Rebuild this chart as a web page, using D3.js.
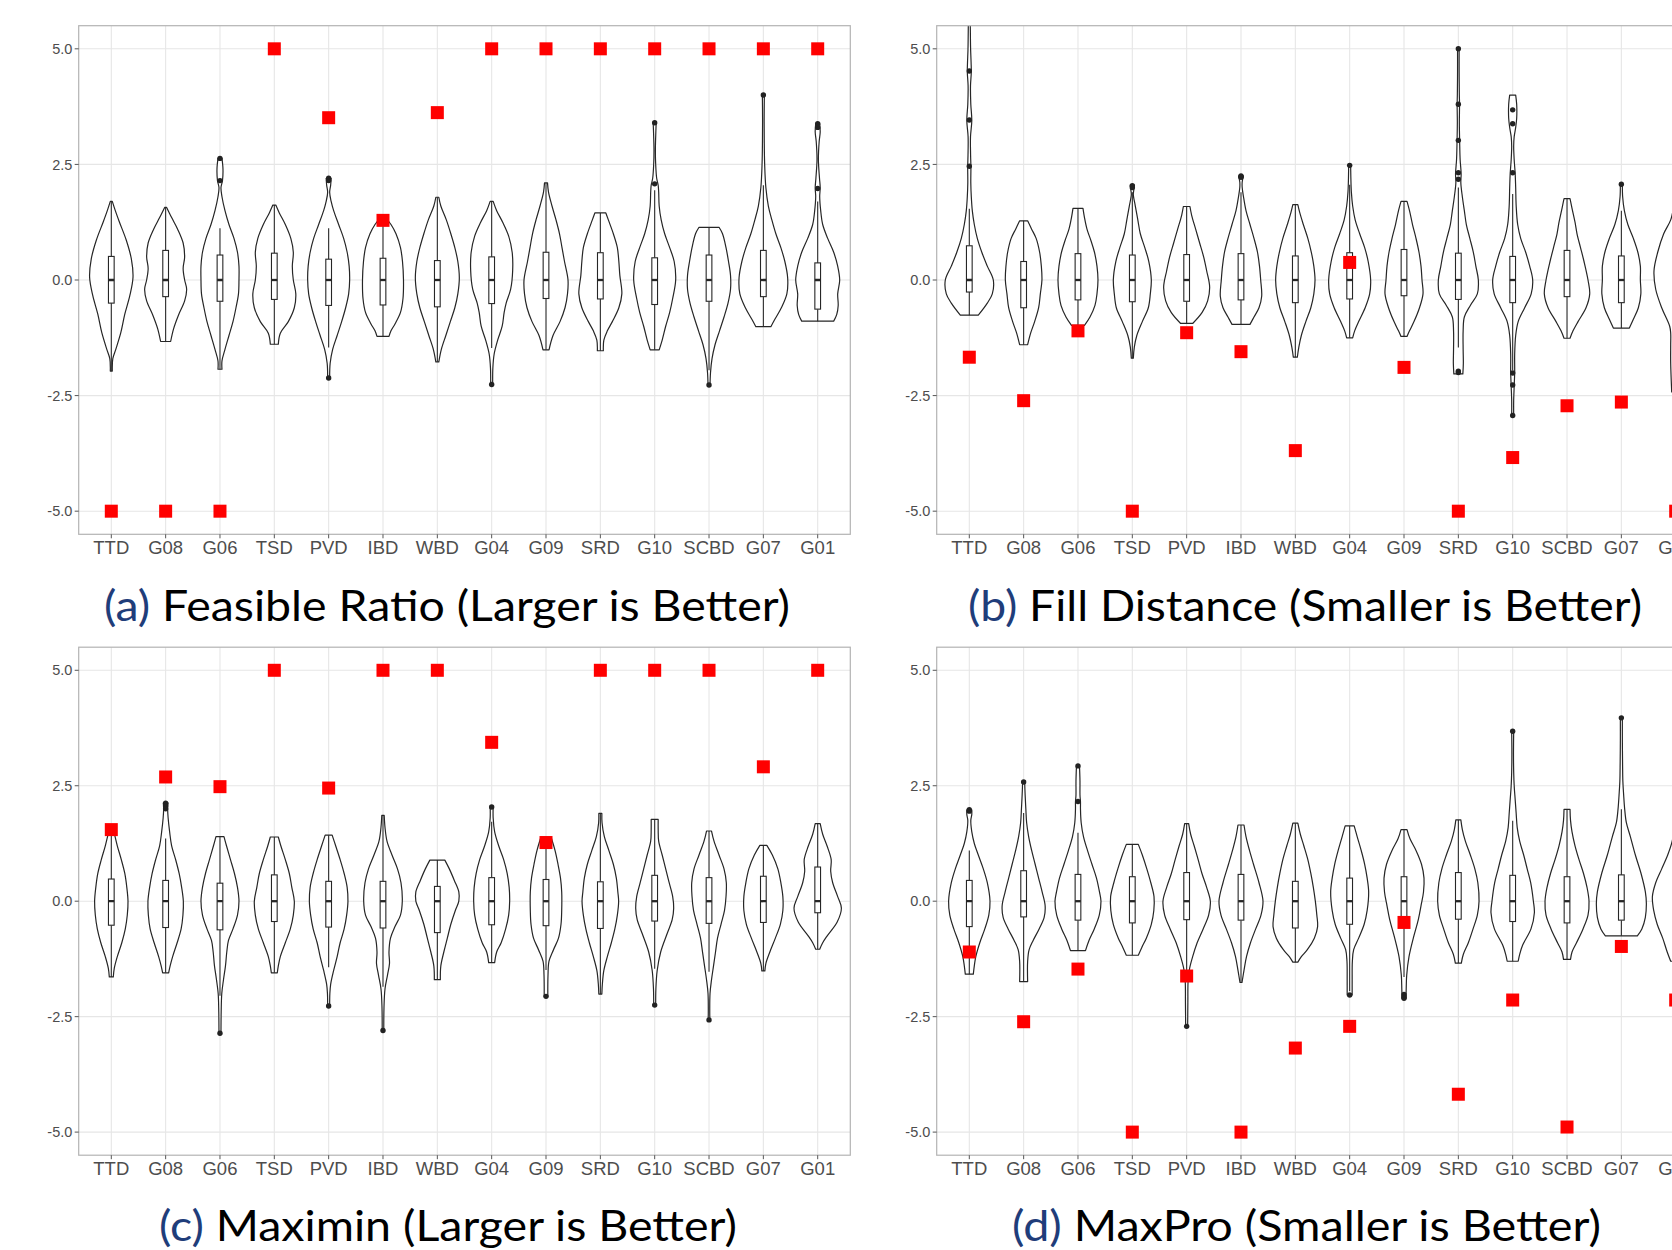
<!DOCTYPE html>
<html>
<head>
<meta charset="utf-8">
<script src="https://cdn.jsdelivr.net/npm/d3@7"></script>
<style>
  html, body { margin: 0; padding: 0; background: #fff; }
  svg { display: block; }
</style>
</head>
<body>
<svg id="fig" width="1672" height="1250"></svg>
<script>
// ---------- shared axis content ----------
const categories = ["TTD", "G08", "G06", "TSD", "PVD", "IBD", "WBD", "G04", "G09", "SRD", "G10", "SCBD", "G07", "G01"];
const yTicks = [-5.0, -2.5, 0.0, 2.5, 5.0];

// ---------- (a) Feasible Ratio ----------
// proposed design value per method (red squares)
const feasibleBest = [-5, -5, -5, 5, 3.51, 1.29, 3.62, 5, 5, 5, 5, 5, 5, 5];
// [lower whisker, q1, median, q3, upper whisker]
const feasibleBoxes = [
  [-1.97, -0.50, 0, 0.51, 1.70], [-1.33, -0.36, 0, 0.64, 1.57], [-1.93, -0.46, 0, 0.54, 1.12],
  [-1.39, -0.42, 0, 0.58, 1.62], [-1.46, -0.55, 0, 0.45, 1.12], [-1.22, -0.54, 0, 0.47, 1.34],
  [-1.77, -0.58, 0, 0.42, 1.79], [-1.47, -0.51, 0, 0.50, 1.70], [-1.51, -0.40, 0, 0.60, 2.10],
  [-1.53, -0.41, 0, 0.59, 1.45], [-1.51, -0.53, 0, 0.48, 1.94], [-1.95, -0.46, 0, 0.54, 1.14],
  [-1.01, -0.36, 0, 0.64, 2.05], [-0.89, -0.63, 0, 0.37, 1.70]
];
const feasibleOutliers = [
  [], [], [2.63, 2.15], [], [2.20, 2.15, -2.12], [], [], [-2.26], [], [], [3.40, 2.08], [-2.27], [4.00], [3.38, 3.30, 1.98]
];
// violin outlines: [value, density]
const feasibleShapes = [
  [[1.70,1],[1.5,4],[1.26,8],[0.86,15],[0.46,20],[0.06,21.7],[-0.34,18.5],[-0.74,13.5],[-1.14,9.5],[-1.5,4.5],[-1.7,1.5],[-1.97,1]],
  [[1.57,1],[1.35,6],[1.1,12],[0.8,17.5],[0.5,19],[0.25,17.5],[0,19],[-0.2,21],[-0.45,19],[-0.75,13],[-1.05,8],[-1.33,5]],
  [[2.63,2],[2.4,3],[2.15,2.5],[2.0,1],[1.8,2],[1.5,5],[1.2,9],[0.9,14],[0.6,17.5],[0.3,19],[0,19],[-0.3,18.5],[-0.6,16],[-0.9,13],[-1.2,9],[-1.5,5],[-1.75,2],[-1.93,2]],
  [[1.62,1.5],[1.45,5],[1.2,11],[0.9,16.5],[0.6,19],[0.3,18],[0,19],[-0.3,21.5],[-0.6,20],[-0.9,14],[-1.15,6],[-1.39,4]],
  [[2.2,2.5],[2.05,2],[1.9,1],[1.7,2.5],[1.5,5],[1.2,10],[0.9,15],[0.6,18.5],[0.3,20.5],[0,21],[-0.3,20],[-0.6,17],[-0.9,13],[-1.2,8.5],[-1.5,4],[-1.8,1.5],[-2.12,1]],
  [[1.34,3],[1.2,8],[1.0,13],[0.7,17.5],[0.4,19.5],[0,20.5],[-0.4,20],[-0.7,17.5],[-0.95,12],[-1.1,8],[-1.22,6]],
  [[1.79,1.5],[1.6,3.5],[1.3,9],[1.0,13.5],[0.7,17.5],[0.4,20.5],[0.05,22],[-0.3,20.5],[-0.6,17.5],[-0.9,13],[-1.2,8.5],[-1.5,4],[-1.77,1.5]],
  [[1.70,1.5],[1.5,5],[1.25,11],[0.95,17],[0.6,20.5],[0.2,21],[-0.2,19],[-0.5,14.5],[-0.7,12.5],[-1.0,10.5],[-1.3,6],[-1.6,2.5],[-1.9,1.2],[-2.26,1]],
  [[2.10,1.5],[1.9,2.5],[1.6,6],[1.3,10],[1.0,13.5],[0.7,16],[0.4,18.5],[0,22],[-0.3,21.5],[-0.6,19],[-0.9,14],[-1.2,7],[-1.51,3]],
  [[1.45,5.5],[1.3,8],[1.0,13],[0.7,17],[0.4,18.5],[0.1,19.5],[-0.3,21.5],[-0.6,18.5],[-0.9,12],[-1.1,7],[-1.3,3.5],[-1.53,3]],
  [[3.40,1.5],[3.1,1],[2.8,0.7],[2.5,1],[2.2,2],[2.05,3.5],[1.9,4],[1.6,4.5],[1.3,6.5],[1.0,10],[0.7,15],[0.4,19.5],[0,21],[-0.4,18],[-0.7,15],[-1.0,11],[-1.3,7.5],[-1.51,4.5]],
  [[1.14,10],[1.0,13.5],[0.7,17],[0.4,19.5],[0.1,21.5],[-0.2,21.5],[-0.5,19],[-0.8,15],[-1.1,10.5],[-1.4,6],[-1.7,3],[-2.0,1.5],[-2.27,1]],
  [[4.0,1],[3.5,0.8],[3.0,0.9],[2.5,1.3],[2.0,2.5],[1.6,5],[1.3,8.5],[1.0,12.5],[0.7,17.5],[0.4,21.5],[0.05,24.3],[-0.3,23.5],[-0.6,18],[-0.85,11.5],[-1.01,7.5]],
  [[3.38,2],[3.2,2.5],[3.0,1.5],[2.6,0.7],[2.2,1.8],[2.0,2.5],[1.8,2],[1.5,3],[1.2,5],[0.9,10],[0.6,16],[0.3,20],[0,22],[-0.3,20],[-0.55,20.5],[-0.75,19],[-0.89,16]]
];

// ---------- (b) Fill Distance ----------
const fillBest = [-1.67, -2.61, -1.10, -5, -1.14, -1.55, -3.69, 0.38, -1.89, -5, -3.84, -2.72, -2.64, -5];
const fillBoxes = [
  [-0.76, -0.26, 0, 0.74, 1.54], [-1.40, -0.60, 0, 0.40, 1.28], [-0.98, -0.43, 0, 0.57, 1.55],
  [-1.69, -0.47, 0, 0.54, 1.90], [-0.94, -0.46, 0, 0.55, 1.59], [-0.96, -0.43, 0, 0.57, 1.90],
  [-1.67, -0.49, 0, 0.52, 1.63], [-1.25, -0.41, 0, 0.59, 2.06], [-1.22, -0.34, 0, 0.66, 1.70],
  [-1.46, -0.42, 0, 0.58, 2.00], [-1.95, -0.49, 0, 0.51, 1.86], [-1.26, -0.36, 0, 0.64, 1.76],
  [-1.04, -0.49, 0, 0.52, 1.50], [-2.42, -0.50, 0, 0.50, 1.60]
];
const fillOutliers = [
  [6.2, 4.52, 3.46, 2.46], [], [], [2.04, 2.00], [], [2.25, 2.22], [], [2.48], [],
  [5.00, 3.80, 3.02, 2.32, 2.18, -1.97, -2.00], [3.68, 3.38, 2.32, -2.01, -2.27, -2.93], [], [2.07], []
];
const fillShapes = [
  [[6.2,0.8],[5.5,1],[5.0,1.3],[4.7,1.8],[4.5,2],[4.2,1.2],[3.8,1.5],[3.45,2.5],[3.1,1.2],[2.7,1.3],[2.45,1.6],[2.1,1.5],[1.8,2],[1.5,3],[1.2,5],[0.9,8],[0.6,12.5],[0.3,18],[0,24],[-0.3,23],[-0.5,18],[-0.76,9]],
  [[1.28,4],[1.1,8],[0.9,12.5],[0.6,16],[0.3,17.7],[0,18.3],[-0.3,16.7],[-0.6,15],[-0.9,11],[-1.15,7],[-1.40,4]],
  [[1.55,5],[1.35,6.5],[1.1,9],[0.85,13],[0.6,16.5],[0.3,19],[0,20],[-0.3,19],[-0.55,17],[-0.8,12],[-0.98,6.5]],
  [[2.05,2],[1.95,1.5],[1.85,1],[1.6,3],[1.3,5.5],[1.0,8],[0.7,12.5],[0.4,16.5],[0,19],[-0.3,18],[-0.6,16],[-0.9,10],[-1.2,4.5],[-1.45,2],[-1.69,1]],
  [[1.59,3.3],[1.4,5],[1.1,9],[0.8,13],[0.5,17],[0.2,20],[-0.15,23],[-0.45,21],[-0.7,15.5],[-0.94,6]],
  [[2.25,2.5],[2.12,1.2],[2.0,1.2],[1.8,2.5],[1.5,5],[1.2,9],[0.9,13],[0.6,16.5],[0.3,18.5],[0,19.7],[-0.35,20.7],[-0.6,18],[-0.8,13],[-0.96,9]],
  [[1.63,2.5],[1.45,4.5],[1.2,8],[0.9,12.5],[0.6,16],[0.3,18.5],[0,19.7],[-0.3,18.5],[-0.6,15.5],[-0.9,10.5],[-1.2,6],[-1.45,3.5],[-1.67,2]],
  [[2.48,1],[2.2,1.2],[1.9,1.7],[1.6,3],[1.3,5.5],[1.0,10],[0.7,15],[0.4,18.5],[0,21],[-0.3,20],[-0.6,15.5],[-0.9,9],[-1.1,5],[-1.25,3]],
  [[1.70,3],[1.5,5.5],[1.2,8.5],[0.9,12],[0.6,15],[0.3,17],[0,18],[-0.3,19],[-0.6,15.5],[-0.9,10],[-1.1,5.5],[-1.22,3]],
  [[5.0,0.8],[4.5,0.8],[4.0,1],[3.8,1.2],[3.4,1],[3.0,1.3],[2.6,1.8],[2.3,2.8],[2.1,2.5],[1.8,4],[1.5,6],[1.2,8],[0.9,11.5],[0.6,15],[0.3,17.5],[0,20],[-0.3,19],[-0.55,12],[-0.8,6],[-1.1,4.8],[-1.5,4.8],[-1.8,5],[-2.03,4.5]],
  [[4.0,3],[3.8,4],[3.5,4],[3.3,3],[3.1,1.5],[2.9,1],[2.6,1.5],[2.3,2.5],[2.0,3],[1.6,3.5],[1.2,5],[0.9,8],[0.6,13],[0.3,17],[0,20],[-0.3,18.5],[-0.6,12],[-0.9,5.5],[-1.2,3],[-1.6,2],[-2.0,2],[-2.3,1.5],[-2.6,1],[-2.93,1]],
  [[1.76,3],[1.55,5],[1.25,8],[1.0,10],[0.7,13.5],[0.4,17],[0,21],[-0.3,22.7],[-0.6,19],[-0.9,11],[-1.1,6],[-1.26,3]],
  [[2.07,1],[1.8,1.3],[1.5,3],[1.2,6.5],[0.9,12],[0.6,16.5],[0.3,19],[0,19],[-0.3,19.5],[-0.6,17],[-0.85,12],[-1.04,8]],
  [[1.6,2],[1.3,5],[1.0,12],[0.6,18],[0.2,21.7],[-0.2,20],[-0.6,14],[-1.0,6],[-1.15,5],[-1.4,5],[-1.8,5],[-2.42,4]]
];

// ---------- (c) Maximin ----------
const maximinBest = [1.55, 2.69, 2.48, 5, 2.45, 5, 5, 3.44, 1.27, 5, 5, 5, 2.91, 5];
const maximinBoxes = [
  [-1.64, -0.52, 0, 0.48, 1.44], [-1.55, -0.57, 0, 0.45, 1.36], [-2.05, -0.62, 0, 0.39, 1.40],
  [-1.55, -0.44, 0, 0.57, 1.39], [-1.43, -0.56, 0, 0.43, 1.43], [-1.85, -0.58, 0, 0.43, 1.86],
  [-1.70, -0.68, 0, 0.32, 0.89], [-1.33, -0.51, 0, 0.51, 1.72], [-1.49, -0.53, 0, 0.47, 1.39],
  [-2.01, -0.59, 0, 0.42, 1.90], [-1.46, -0.43, 0, 0.56, 1.77], [-1.53, -0.48, 0, 0.51, 1.52],
  [-1.51, -0.46, 0, 0.54, 1.21], [-1.04, -0.25, 0, 0.74, 1.68]
];
const maximinOutliers = [
  [], [2.12, 2.06, 2.00], [-2.86], [], [-2.27], [-2.80], [], [2.04], [-2.06], [], [-2.25], [-2.57], [], []
];
const maximinShapes = [
  [[1.44,3.3],[1.2,6],[0.9,10],[0.6,13.5],[0.3,15.5],[0,16.7],[-0.3,16],[-0.6,14],[-0.9,10.5],[-1.2,6],[-1.45,3],[-1.64,2]],
  [[2.13,2.3],[2.0,2],[1.8,2.5],[1.5,4],[1.2,6],[0.9,10],[0.6,13.5],[0.3,16],[0,17.7],[-0.3,17.3],[-0.6,15.5],[-0.9,11.5],[-1.2,7],[-1.4,4.5],[-1.55,3]],
  [[1.40,4],[1.2,6.5],[0.9,10.5],[0.6,14.5],[0.3,17.5],[0,19],[-0.3,17.5],[-0.6,13],[-0.85,8.5],[-1.1,6.8],[-1.4,5.5],[-1.7,3.5],[-2.0,1.8],[-2.4,1.2],[-2.87,1]],
  [[1.39,4],[1.2,6.5],[0.9,11],[0.6,15],[0.3,17.5],[0,20],[-0.3,19],[-0.6,16],[-0.9,11],[-1.2,6],[-1.4,4],[-1.55,3]],
  [[1.43,3.5],[1.2,7],[0.9,11.5],[0.6,15.5],[0.3,18.5],[0,19.3],[-0.3,18],[-0.6,15.5],[-0.9,11.5],[-1.2,8.5],[-1.5,5],[-1.8,2],[-2.0,1.2],[-2.27,1]],
  [[1.86,1.2],[1.6,2],[1.3,4],[1.0,9],[0.7,14.5],[0.4,18],[0,19.3],[-0.3,17.5],[-0.55,12],[-0.8,7.5],[-1.1,6],[-1.35,6.5],[-1.6,4.5],[-1.9,2],[-2.3,1],[-2.8,0.8]],
  [[0.89,7.5],[0.7,12],[0.45,17],[0.2,21.5],[0,21.5],[-0.2,18],[-0.5,13.5],[-0.8,10],[-1.1,6.5],[-1.4,3.5],[-1.70,3]],
  [[2.04,1.5],[1.8,1.5],[1.5,3],[1.2,7],[0.9,12],[0.6,15.5],[0.3,17.5],[0,18],[-0.3,17],[-0.6,14],[-0.9,9.5],[-1.1,5],[-1.33,3]],
  [[1.39,5],[1.1,9],[0.8,12],[0.5,14.5],[0.2,15.7],[-0.2,15.7],[-0.5,15],[-0.8,12.5],[-1.05,7.5],[-1.3,3],[-1.6,2],[-2.06,1.8]],
  [[1.90,1.5],[1.7,1.7],[1.4,4],[1.1,8.5],[0.8,13],[0.5,16],[0.2,17.5],[0,18.3],[-0.3,17],[-0.6,14.5],[-0.9,11],[-1.2,7],[-1.5,3.5],[-1.8,2],[-2.01,1.5]],
  [[1.77,3.5],[1.55,3.5],[1.3,4],[1.0,7.5],[0.7,11],[0.4,14.5],[0.1,18],[-0.15,19],[-0.4,17.5],[-0.7,12.5],[-1.1,6],[-1.5,2.5],[-1.9,1.2],[-2.25,1]],
  [[1.52,2.5],[1.3,5],[1.0,10],[0.7,15],[0.4,17.3],[0.1,17],[-0.2,15.5],[-0.5,12],[-0.8,8.5],[-1.1,6.5],[-1.4,4.5],[-1.7,2.5],[-2.0,1],[-2.57,0.8]],
  [[1.21,3.5],[1.0,9],[0.7,14.5],[0.4,17.5],[0.1,19.5],[-0.2,19.5],[-0.5,17],[-0.8,12],[-1.1,6.5],[-1.35,2.5],[-1.51,1.5]],
  [[1.68,2.5],[1.45,5],[1.2,9.3],[0.9,13.5],[0.65,13],[0.4,15],[0.1,20],[-0.15,23.7],[-0.45,19.5],[-0.75,9.5],[-0.9,5],[-1.04,2]]
];

// ---------- (d) MaxPro ----------
const maxproBest = [-1.10, -2.61, -1.47, -5, -1.62, -5, -3.18, -2.71, -0.46, -4.18, -2.14, -4.89, -0.98, -2.14];
const maxproBoxes = [
  [-1.58, -0.55, 0, 0.45, 1.10], [-1.74, -0.34, 0, 0.66, 1.91], [-1.07, -0.41, 0, 0.58, 1.48],
  [-1.17, -0.47, 0, 0.53, 1.23], [-1.51, -0.40, 0, 0.62, 1.68], [-1.76, -0.41, 0, 0.58, 1.65],
  [-1.32, -0.58, 0, 0.43, 1.69], [-1.95, -0.50, 0, 0.50, 1.63], [-1.64, -0.35, 0, 0.53, 1.55],
  [-1.34, -0.39, 0, 0.62, 1.76], [-1.30, -0.44, 0, 0.56, 1.74], [-1.26, -0.47, 0, 0.53, 1.99],
  [-0.75, -0.41, 0, 0.57, 1.99], [-1.30, -0.50, 0, 0.50, 1.60]
];
const maxproOutliers = [
  [1.98, 1.95], [2.58], [2.93, 2.16], [], [-2.71], [], [], [-2.03], [-2.02, -2.07, -2.10], [], [3.68], [], [3.97], []
];
const maxproShapes = [
  [[1.98,2.5],[1.88,2.5],[1.75,1.5],[1.5,2.5],[1.25,5],[1.0,9],[0.7,14],[0.4,18],[0,20.7],[-0.3,19.5],[-0.6,15.5],[-0.9,10.5],[-1.2,6.5],[-1.4,5],[-1.58,4]],
  [[2.58,1],[2.3,1.5],[2.0,2.2],[1.7,3],[1.4,5],[1.1,8],[0.8,11.5],[0.5,15],[0.2,18.5],[-0.1,21.5],[-0.35,20.5],[-0.6,15.5],[-0.85,9.5],[-1.05,5.5],[-1.3,4],[-1.74,4]],
  [[2.93,1.5],[2.6,2],[2.3,2],[2.15,2.5],[2.0,2.5],[1.7,3.2],[1.4,5.5],[1.1,9.5],[0.8,14],[0.5,18.5],[0.2,21.5],[0,23],[-0.3,21.3],[-0.6,16.3],[-0.85,11],[-1.07,7.5]],
  [[1.23,6],[1.0,10],[0.7,14.5],[0.4,18.5],[0.1,21.7],[-0.2,21.5],[-0.5,19],[-0.8,14],[-1.0,9.5],[-1.17,6]],
  [[1.68,2],[1.45,4],[1.2,7.5],[0.9,11.5],[0.6,15.3],[0.3,20],[0,23.7],[-0.3,22],[-0.6,16.5],[-0.9,10.5],[-1.2,6],[-1.45,3],[-1.7,1.5],[-2.2,1.2],[-2.71,1]],
  [[1.65,3],[1.4,5],[1.1,8.5],[0.8,12.5],[0.4,18],[0,22],[-0.3,20],[-0.6,14.7],[-0.9,9.5],[-1.2,5.5],[-1.5,3],[-1.76,1]],
  [[1.69,2.5],[1.45,5],[1.2,8.5],[0.9,12.5],[0.6,15.5],[0.3,18],[0,20],[-0.3,21.5],[-0.55,22.3],[-0.8,19],[-1.05,12],[-1.2,6],[-1.32,2.5]],
  [[1.63,4.5],[1.4,7.5],[1.1,11.5],[0.8,15],[0.5,17.5],[0.2,19],[-0.2,17.5],[-0.5,14.5],[-0.8,9],[-1.05,4],[-1.3,2.7],[-1.7,2.5],[-2.03,2.5]],
  [[1.55,3],[1.35,6],[1.1,12],[0.8,17.5],[0.5,20],[0.2,19.5],[-0.1,17],[-0.4,14.3],[-0.8,9.3],[-1.2,5],[-1.6,2.7],[-1.9,2.2],[-2.1,2]],
  [[1.76,2.5],[1.55,4],[1.3,7],[1.0,12],[0.7,16.5],[0.4,19.5],[0,20.7],[-0.3,19],[-0.6,14.7],[-0.9,10],[-1.15,5],[-1.34,3]],
  [[3.68,1],[3.2,0.8],[2.8,1],[2.5,1.5],[2.2,2.5],[1.9,3.5],[1.6,4.5],[1.3,7],[1.0,11],[0.7,14.5],[0.4,18],[0,20.7],[-0.25,21.7],[-0.6,18.3],[-0.95,10],[-1.15,7],[-1.30,5.5]],
  [[1.99,3],[1.75,3.5],[1.5,5],[1.2,8],[0.9,12],[0.6,16.5],[0.3,20],[0,22],[-0.3,21],[-0.6,16],[-0.9,9.5],[-1.1,5],[-1.26,3.5]],
  [[3.97,1],[3.5,1],[3.0,1.2],[2.6,1.5],[2.3,2.3],[2.0,3.3],[1.7,5],[1.4,9],[1.0,14],[0.6,19.7],[0.2,24],[-0.05,25],[-0.35,24],[-0.6,20.5],[-0.75,16]],
  [[1.6,1.5],[1.3,3.5],[1.0,8],[0.7,14],[0.4,20],[0.1,23.3],[-0.2,22],[-0.5,18.5],[-0.8,13],[-1.1,8.5],[-1.3,5]]
];

// ---------- layout ----------
const svg = d3.select("#fig");
const colX = [[78.7, 850.3], [936.7, 1708.3]];
const rowY = [[534.3, 25.7], [1155.2, 647.2]];
const titleFont = "Lato, 'Open Sans', sans-serif";
const axisFont = "'Liberation Sans', Arial, Helvetica, sans-serif";
// tick labels use a plain hyphen for negatives
const tickFormat = d3.formatLocale({ decimal: ".", thousands: ",", grouping: [3], currency: ["", ""], minus: "-" }).format(".1f");

const panels = [
  { col: 0, row: 0, best: feasibleBest, boxes: feasibleBoxes, outliers: feasibleOutliers, shapes: feasibleShapes,
    tag: "(a)", title: " Feasible Ratio (Larger is Better)", tx: 104, ty: 621, tw: 686 },
  { col: 1, row: 0, best: fillBest, boxes: fillBoxes, outliers: fillOutliers, shapes: fillShapes,
    tag: "(b)", title: " Fill Distance (Smaller is Better)", tx: 968, ty: 621, tw: 674 },
  { col: 0, row: 1, best: maximinBest, boxes: maximinBoxes, outliers: maximinOutliers, shapes: maximinShapes,
    tag: "(c)", title: " Maximin (Larger is Better)", tx: 159, ty: 1241, tw: 578 },
  { col: 1, row: 1, best: maxproBest, boxes: maxproBoxes, outliers: maxproOutliers, shapes: maxproShapes,
    tag: "(d)", title: " MaxPro (Smaller is Better)", tx: 1012, ty: 1241, tw: 589 }
];

const defs = svg.append("defs");

panels.forEach((p, pi) => {
  const [x0, x1] = colX[p.col];
  const [yb, yt] = rowY[p.row];
  const x = d3.scalePoint().domain(categories).range([x0, x1]).padding(0.6);
  const y = d3.scaleLinear().domain([-5.5, 5.5]).range([yb, yt]);
  const step = x.step();
  const dens = d3.scaleLinear().domain([0, 25]).range([0, step * 0.46]);
  const boxW = step * 0.105;

  const clipId = "clip" + pi;
  defs.append("clipPath").attr("id", clipId)
    .append("rect").attr("x", x0).attr("y", yt).attr("width", x1 - x0).attr("height", yb - yt);

  const g = svg.append("g");
  // grid
  const grid = g.append("g").attr("stroke", "#e6e6e6").attr("stroke-width", 1.1);
  yTicks.forEach(t => grid.append("line").attr("x1", x0).attr("x2", x1).attr("y1", y(t)).attr("y2", y(t)));
  categories.forEach(c => grid.append("line").attr("x1", x(c)).attr("x2", x(c)).attr("y1", yt).attr("y2", yb));

  const plot = g.append("g").attr("clip-path", `url(#${clipId})`);

  // violins
  categories.forEach((c, i) => {
    const cx = x(c);
    const area = d3.area()
      .y(d => y(d[0]))
      .x0(d => cx - dens(d[1]))
      .x1(d => cx + dens(d[1]))
      .curve(d3.curveCatmullRom.alpha(0.5));
    plot.append("path").attr("d", area(p.shapes[i]))
      .attr("fill", "#fff").attr("stroke", "#262626").attr("stroke-width", 1.2)
      .attr("stroke-linejoin", "round");
  });

  // box plots
  categories.forEach((c, i) => {
    const cx = x(c);
    const [lo, q1, med, q3, hi] = p.boxes[i];
    const bg = plot.append("g").attr("stroke", "#262626").attr("stroke-width", 1.1);
    bg.append("line").attr("x1", cx).attr("x2", cx).attr("y1", y(hi)).attr("y2", y(q3));
    bg.append("line").attr("x1", cx).attr("x2", cx).attr("y1", y(q1)).attr("y2", y(lo));
    bg.append("rect").attr("x", cx - boxW / 2).attr("width", boxW)
      .attr("y", y(q3)).attr("height", y(q1) - y(q3)).attr("fill", "#fff");
    bg.append("line").attr("x1", cx - boxW / 2).attr("x2", cx + boxW / 2)
      .attr("y1", y(med)).attr("y2", y(med)).attr("stroke-width", 2.3);
    p.outliers[i].forEach(v => {
      plot.append("circle").attr("cx", cx).attr("cy", y(v)).attr("r", 2.7).attr("fill", "#222");
    });
  });

  // proposed design values
  const sq = 13;
  plot.selectAll("rect.best").data(p.best).join("rect").attr("class", "best")
    .attr("x", (d, i) => x(categories[i]) - sq / 2)
    .attr("y", d => y(d) - sq / 2)
    .attr("width", sq).attr("height", sq).attr("fill", "#ff0000");

  // panel border
  g.append("rect").attr("x", x0).attr("y", yt).attr("width", x1 - x0).attr("height", yb - yt)
    .attr("fill", "none").attr("stroke", "#b3b3b3").attr("stroke-width", 1.2);

  // axes
  const ax = g.append("g").attr("font-family", axisFont).attr("fill", "#4d4d4d");
  yTicks.forEach(t => {
    ax.append("line").attr("x1", x0 - 4).attr("x2", x0).attr("y1", y(t)).attr("y2", y(t))
      .attr("stroke", "#555").attr("stroke-width", 1);
    ax.append("text").attr("x", x0 - 6.4).attr("y", y(t) + 5.1)
      .attr("text-anchor", "end").attr("font-size", 14.5).text(tickFormat(t));
  });
  categories.forEach(c => {
    ax.append("line").attr("x1", x(c)).attr("x2", x(c)).attr("y1", yb).attr("y2", yb + 4)
      .attr("stroke", "#555").attr("stroke-width", 1);
    ax.append("text").attr("x", x(c)).attr("y", yb + 19.8)
      .attr("text-anchor", "middle").attr("font-size", 18.5).text(c);
  });

  // caption
  const t = svg.append("text").attr("x", p.tx).attr("y", p.ty)
    .attr("font-family", titleFont).attr("font-size", 42).attr("font-weight", 400)
    .attr("textLength", p.tw).attr("lengthAdjust", "spacingAndGlyphs")
    .style("white-space", "pre");
  t.append("tspan").attr("fill", "#1f3d7a").text(p.tag);
  t.append("tspan").attr("fill", "#000").text(p.title);
});
</script>
</body>
</html>
